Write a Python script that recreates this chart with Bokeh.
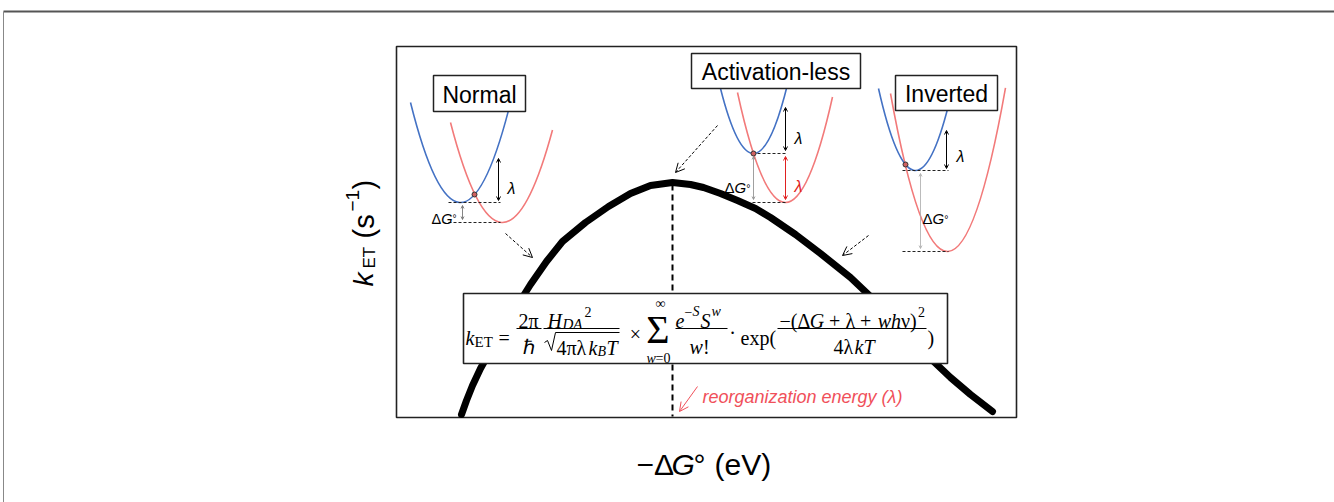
import math
from bokeh.plotting import figure
from bokeh.models import Range1d, Arrow, OpenHead
from bokeh.embed import file_html
from bokeh.resources import INLINE
from bokeh.core.properties import value

# ------------------------------------------------------------------
# DATA (schematic units; y grows downward)
# ------------------------------------------------------------------
# Marcus-type rate curve: k_ET versus -dG
curve_neg_dG = [461, 466, 472, 480, 490, 502, 515, 530, 546, 562, 585, 608, 630,
                650, 672, 690, 703, 720, 737, 755, 770, 795, 820, 850, 870, 890,
                910, 930, 950, 970, 992]
curve_k = [414, 400, 385, 368, 350, 330, 308, 284, 261, 241, 222, 206, 193,
           185, 182, 184, 187, 193, 200, 208, 217, 234, 253, 277, 296, 316,
           337, 358, 377, 394, 411]
peak_neg_dG = 672          # reorganization energy position (-dG = lambda)

# potential-energy parabolas of the three insets
regimes = ["Normal", "Activation-less", "Inverted"]
# reactant (blue) / product (red): vertex x, vertex y, left end x, left end y, right end x
blue_vx = [460, 753, 915]
blue_vy = [202, 153, 170]
blue_xl = [410, 720, 878]
blue_yl = [102, 88, 88]
blue_xr = [508, 787, 948]
red_vx = [502, 785, 947]
red_vy = [222, 202, 251]
red_xl = [450, 737, 890]
red_yl = [122, 92, 93]
red_xr = [552, 832, 1005]
cross_x = [474, 753, 905]          # crossing points (transition state)
cross_y = [194, 153, 164]

# ------------------------------------------------------------------
BLUE = "#4472C4"
RED = "#F27A7A"
RED_TXT = "#F0505A"
SANS = "Liberation Sans"
SERIF = "Liberation Serif"

p = figure(width=1334, height=502, x_range=Range1d(0, 1334), y_range=Range1d(502, 0),
           output_backend="svg", toolbar_location=None, min_border=0)
p.axis.visible = False
p.grid.visible = False
p.outline_line_color = None
p.background_fill_color = "white"
p.border_fill_color = "white"


def txt(x, y, s, size, style="normal", align="left", baseline="alphabetic",
        color="black", font=SANS, angle=0.0):
    p.text(x=[x], y=[y], text=[s], text_font=value(font), text_font_size=value(f"{size}px"),
           text_font_style=value(style), text_align=value(align),
           text_baseline=value(baseline), text_color=value(color), angle=angle)


# page frame (top and left rules)
p.segment(x0=[3, 3], y0=[11, 11], x1=[1334, 3], y1=[11, 502],
          line_color=["#555555", "#888888"], line_width=[2, 1])

# plot box
p.quad(left=[396], right=[1016], top=[46], bottom=[417], fill_color=None,
       line_color="#222222", line_width=1.6)

# main curve
p.line(curve_neg_dG, curve_k, line_color="black", line_width=7, line_cap="round",
       line_join="round")
# dashed vertical at lambda
p.segment(x0=[peak_neg_dG], y0=[184], x1=[peak_neg_dG], y1=[416], line_color="black",
          line_width=2, line_dash="6 4")


# parabolas as quadratic Bezier segments
def bezier(vx, vy, xl, yl, xr):
    a = (yl - vy) / (xl - vx) ** 2
    yr = vy + a * (xr - vx) ** 2
    cx = (xl + xr) / 2
    cy = yl + 2 * a * (xl - vx) * (cx - xl)
    return xl, yl, xr, yr, cx, cy


for vx, vy, xl, yl, xr in zip(red_vx, red_vy, red_xl, red_yl, red_xr):
    x0, y0, x1, y1, cx, cy = bezier(vx, vy, xl, yl, xr)
    p.quadratic(x0=[x0], y0=[y0], x1=[x1], y1=[y1], cx=[cx], cy=[cy],
                line_color=RED, line_width=1.6)
for vx, vy, xl, yl, xr in zip(blue_vx, blue_vy, blue_xl, blue_yl, blue_xr):
    x0, y0, x1, y1, cx, cy = bezier(vx, vy, xl, yl, xr)
    p.quadratic(x0=[x0], y0=[y0], x1=[x1], y1=[y1], cx=[cx], cy=[cy],
                line_color=BLUE, line_width=1.6)

# dashed minima levels
lvl_x0 = [448, 448, 752, 752, 902, 902]
lvl_x1 = [500, 500, 785, 785, 948, 948]
lvl_y = [202, 222, 153, 202, 170, 251]
p.segment(x0=lvl_x0, y0=lvl_y, x1=lvl_x1, y1=lvl_y, line_color="#222222",
          line_width=1, line_dash="3 2")

p.scatter(cross_x, cross_y, size=5, marker="circle", fill_color="#d06060",
          line_color="#333333", line_width=1)


def dbl(x, y0, y1, color, lw=1.0, size=4):
    p.add_layout(Arrow(x_start=x, y_start=y0, x_end=x, y_end=y1,
                       start=OpenHead(size=size, line_color=color, line_width=lw),
                       end=OpenHead(size=size, line_color=color, line_width=lw),
                       line_color=color, line_width=lw))


# lambda / dG arrows
dbl(498, 158, 200, "black")
dbl(462, 205, 219, "#666666", 0.8, 3)
dbl(785, 107, 150, "black")
dbl(785, 156, 199, "#E02020")
dbl(753, 156, 199, "#888888", 0.8, 3)
dbl(946, 130, 168, "black")
dbl(920, 173, 248, "#aaaaaa", 0.8, 3)

txt(507, 188, "λ", 16, "italic")
txt(794, 138, "λ", 16, "italic")
txt(794, 186, "λ", 16, "italic", color="#E02020")
txt(956, 156, "λ", 16, "italic")


def dG_label(x, y, size):
    txt(x, y, "Δ", size)
    txt(x + 0.67 * size, y, "G", size, "italic")
    txt(x + 1.45 * size, y, "°", size * 0.7)


dG_label(431, 218, 14.5)
dG_label(724, 187, 15)
dG_label(922, 218, 15)

# regime label boxes
box_l = [433, 691, 895]
box_r = [525, 860, 997]
box_t = [75, 53, 75]
box_b = [111, 88, 110]
p.quad(left=box_l, right=box_r, top=box_t, bottom=box_b, fill_color="white",
       line_color="#222222", line_width=1.5)
for name, l, r, t, b in zip(regimes, box_l, box_r, box_t, box_b):
    txt((l + r) / 2, (t + b) / 2 + 1, name, 23, align="center", baseline="middle")

# dashed pointer arrows
for xs, ys, xe, ye in [(505, 233, 532, 257), (717, 125, 675, 172), (868, 235, 842, 255)]:
    p.add_layout(Arrow(x_start=xs, y_start=ys, x_end=xe, y_end=ye,
                       end=OpenHead(size=9, line_color="black", line_width=1),
                       line_color="black", line_width=1, line_dash="3 2"))
p.add_layout(Arrow(x_start=697, y_start=386, x_end=679, y_end=411,
                   end=OpenHead(size=9, line_color=RED_TXT, line_width=1),
                   line_color=RED_TXT, line_width=1))
txt(702, 396, "reorganization energy (λ)", 18, "italic", color=RED_TXT)

# formula box
p.quad(left=[463], right=[947], top=[293], bottom=[363], fill_color="white",
       line_color="#222222", line_width=1.6)

F = 20
S = 14
NB = 320      # numerator baseline
SB = 311      # superscript baseline in numerators
pieces = [
    ("k", 465, 337, F, "italic"), ("ET", 474, 341, 15, "normal"),
    ("=", 498, 337, F, "normal"),
    ("2π", 518, NB, F, "normal"),
    ("H", 547, NB, F, "italic"), ("DA", 562, NB + 3, 15, "italic"), ("2", 584, SB, S, "normal"),
    ("4πλ", 556, 347, F, "normal"), ("k", 588, 347, F, "italic"),
    ("B", 597, 351, S, "italic"), ("T", 606, 347, F, "italic"),
    ("e", 675, NB, F, "italic"), ("−", 684, SB, S, "normal"), ("S", 692, SB, S, "italic"),
    ("S", 700, NB, F, "italic"), ("w", 711, SB, S, "italic"),
    ("w", 689, 346, F, "italic"), ("!", 702.5, 346, F, "normal"),
    ("w", 646, 358, S, "italic"), ("=0", 655, 358, S, "normal"),
    ("exp(", 740, 337, F, "normal"),
    ("−(Δ", 779, NB, F, "normal"), ("G", 809.2, NB, F, "italic"),
    ("+ λ +", 828.6, NB, F, "normal"), ("wh", 877.2, NB, F, "italic"),
    ("ν)", 900.5, NB, F, "normal"), ("2", 917.5, SB, S, "normal"),
    ("4λ", 833, 346, F, "normal"), ("kT", 854, 346, F, "italic"),
    (")", 927, 337, F, "normal"),
]
for s, x, y, size, style in pieces:
    txt(x, y, s, size, style, font=SERIF)
txt(528.5, 346, "ℏ", F, align="center", font=SERIF)
txt(635, 333, "×", F, align="center", baseline="middle", font=SERIF)
txt(732, 332, "·", F, align="center", baseline="middle", font=SERIF)
txt(657.5, 329, "Σ", 40, align="center", baseline="middle", font=SERIF)
txt(660, 303, "∞", S, align="center", baseline="middle", font=SERIF)
# fraction bars
p.segment(x0=[516, 543, 675, 777], y0=[328] * 4, x1=[541, 619, 727, 926], y1=[328] * 4,
          line_color="black", line_width=1)
# radical sign
p.line([544, 547, 551, 555, 619], [342, 340, 350, 332, 332], line_color="black", line_width=1)

# axis titles
txt(363, 286, "k", 28, "italic", angle=math.pi / 2)
txt(369, 268, "ET", 17, angle=math.pi / 2)
txt(363, 238, "(s", 29, angle=math.pi / 2)
txt(352, 211, "−1", 19, angle=math.pi / 2)
txt(363, 189, ")", 29, angle=math.pi / 2)

txt(636, 464, "−Δ", 30)
txt(671, 464, "G", 30, "italic")
txt(693, 464, "°", 30)
txt(714, 464, "(eV)", 30)

open("out.html", "w").write(file_html(p, INLINE))
